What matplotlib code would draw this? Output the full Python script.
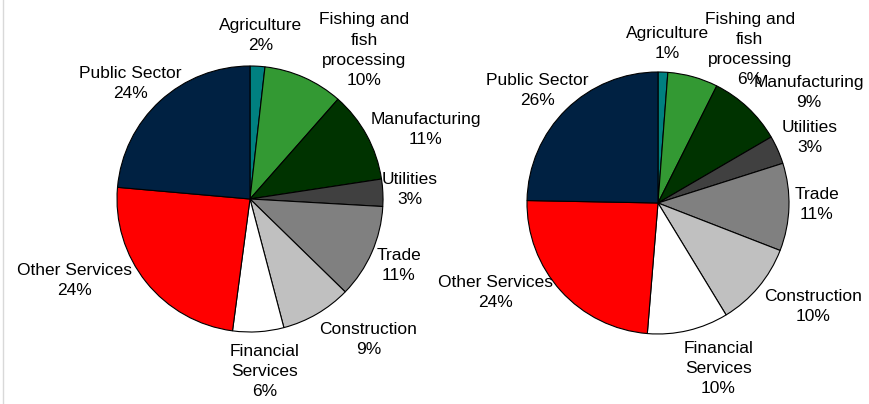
import matplotlib
matplotlib.use("Agg")
import matplotlib.pyplot as plt

sectors = ["Agriculture", "Fishing and\nfish\nprocessing", "Manufacturing", "Utilities",
           "Trade", "Construction", "Financial\nServices", "Other Services", "Public Sector"]
colors = ["#008080", "#339933", "#003300", "#404040", "#808080",
          "#c0c0c0", "#ffffff", "#ff0000", "#002142"]

left_share = [1.8, 9.7, 11.1, 3.3, 11.4, 8.6, 6.2, 24.3, 23.6]
left_pct = [2, 10, 11, 3, 11, 9, 6, 24, 24]
right_share = [1.2, 6.2, 9.2, 3.5, 10.8, 10.4, 10.0, 24.0, 24.7]
right_pct = [1, 6, 9, 3, 11, 10, 10, 24, 26]

# label offsets from the pie centre, in pie radii
left_lab = [(0.08, 1.23), (0.86, 1.12), (1.32, 0.52), (1.20, 0.07), (1.12, -0.50),
            (0.89, -1.06), (0.11, -1.30), (-1.32, -0.61), (-0.90, 0.87)]
right_lab = [(0.07, 1.22), (0.70, 1.17), (1.15, 0.84), (1.16, 0.50), (1.21, -0.01),
             (1.18, -0.79), (0.46, -1.26), (-1.24, -0.68), (-0.92, 0.86)]

W, H = 870, 404
plt.rcParams['font.family'] = ['Liberation Sans', 'DejaVu Sans']

fig = plt.figure(figsize=(W / 100, H / 100), dpi=100)
ax = fig.add_axes([0, 0, 1, 1])


def draw_pie(share, pct, lab, cx, cy, r):
    ax.pie(share, colors=colors, startangle=90, counterclock=False,
           center=(cx, H - cy), radius=r,
           wedgeprops=dict(edgecolor="black", linewidth=0.8))
    for name, p, (dx, dy) in zip(sectors, pct, lab):
        ax.text(cx + dx * r, H - cy + dy * r, f"{name}\n{p}%", ha="center", va="center",
                fontsize=12.5, color="black", linespacing=1.42)


draw_pie(left_share, left_pct, left_lab, 250, 199, 133)
draw_pie(right_share, right_pct, right_lab, 658, 203, 131)

ax.axvline(3, color="#d9d9d9", linewidth=1)
ax.set_xlim(0, W)
ax.set_ylim(0, H)
ax.set_aspect("equal")
ax.axis("off")

fig.savefig("out.png", dpi=100)
